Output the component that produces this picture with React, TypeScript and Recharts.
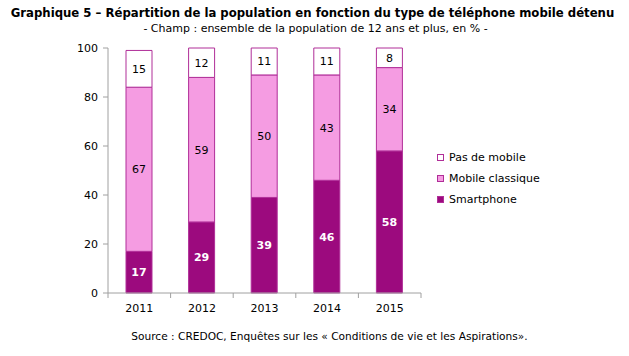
import React from 'react';
import { BarChart, Bar, XAxis, YAxis, LabelList } from 'recharts';

const years = ['2011', '2012', '2013', '2014', '2015'];
const smartphone = [17, 29, 39, 46, 58];
const mobileClassique = [67, 59, 50, 43, 34];
const pasDeMobile = [15, 12, 11, 11, 8];
const yTicks = [0, 20, 40, 60, 80, 100];

const data = years.map((y, i) => ({
  year: y,
  smartphone: smartphone[i],
  classique: mobileClassique[i],
  pas: pasDeMobile[i],
}));

const FONT = '"DejaVu Sans", Verdana, sans-serif';
const BORDER = '#B02E98';
const AXIS = '#A0A0A0';
const C_SMART = '#9C0A7E';
const C_CLASSIC = '#F59CE2';
const LABEL_GAP = 11;

const legendItems = [
  { name: 'Pas de mobile', color: '#fff' },
  { name: 'Mobile classique', color: C_CLASSIC },
  { name: 'Smartphone', color: C_SMART },
];

function XTick(props: any) {
  const { x, y, payload, index } = props;
  const off = payload && typeof payload.offset === 'number' && payload.offset > 0 ? payload.offset : 31;
  const axisY = y - LABEL_GAP;
  const isLast = index === years.length - 1;
  return (
    <g>
      <line x1={x - off} x2={x - off} y1={axisY} y2={axisY + 5} stroke={AXIS} />
      {isLast && <line x1={x + off} x2={x + off} y1={axisY} y2={axisY + 5} stroke={AXIS} />}
      <text x={x} y={y} dy="0.71em" textAnchor="middle" fill="#000" fontSize={11} fontFamily={FONT}>{payload.value}</text>
    </g>
  );
}

export default function App() {
  return (
    <div style={{ position: 'absolute', left: 0, top: 0, width: 629, height: 356, background: '#fff', fontFamily: FONT }}>
      <div style={{ position: 'absolute', left: 0, top: 0 }}>
        <BarChart width={629} height={356} data={data} margin={{ top: 48, right: 208, left: 0, bottom: 33 }} barSize={26}>
          <XAxis dataKey="year" axisLine={{ stroke: AXIS }} tickLine={false} tickSize={0} tickMargin={LABEL_GAP} tick={<XTick />} height={30} interval={0} />
          <YAxis domain={[0, 100]} ticks={yTicks} width={108} axisLine={{ stroke: AXIS }} tickLine={{ stroke: AXIS }} tickSize={5} tick={{ fill: '#000', fontSize: 11, fontFamily: FONT }} tickMargin={5} />
          <Bar dataKey="smartphone" name="Smartphone" stackId="a" fill={C_SMART} stroke={BORDER} strokeWidth={1} isAnimationActive={false}>
            <LabelList dataKey="smartphone" position="center" fill="#fff" fontWeight="bold" fontSize={11} fontFamily={FONT} />
          </Bar>
          <Bar dataKey="classique" name="Mobile classique" stackId="a" fill={C_CLASSIC} stroke={BORDER} strokeWidth={1} isAnimationActive={false}>
            <LabelList dataKey="classique" position="center" fill="#000" fontSize={11} fontFamily={FONT} />
          </Bar>
          <Bar dataKey="pas" name="Pas de mobile" stackId="a" fill="#fff" stroke={BORDER} strokeWidth={1} isAnimationActive={false}>
            <LabelList dataKey="pas" position="center" fill="#000" fontSize={11} fontFamily={FONT} />
          </Bar>
        </BarChart>
      </div>
      <div style={{ position: 'absolute', left: 0, top: 6, width: 625, textAlign: 'center', fontWeight: 'bold', fontSize: 11.7, color: '#000', whiteSpace: 'nowrap' }}>
        Graphique 5 – Répartition de la population en fonction du type de téléphone mobile détenu
      </div>
      <div style={{ position: 'absolute', left: 1, top: 22, width: 629, textAlign: 'center', fontSize: 11, color: '#000', whiteSpace: 'nowrap' }}>
        - Champ : ensemble de la population de 12 ans et plus, en % -
      </div>
      <div style={{ position: 'absolute', left: 15, top: 330, width: 629, textAlign: 'center', fontSize: 10.6, color: '#000', whiteSpace: 'nowrap' }}>
        Source : CREDOC, Enquêtes sur les « Conditions de vie et les Aspirations».
      </div>
      <div style={{ position: 'absolute', left: 437, top: 147 }}>
        {legendItems.map((it) => (
          <div key={it.name} style={{ display: 'flex', alignItems: 'center', height: 21, fontSize: 11, color: '#000' }}>
            <span style={{ display: 'inline-block', width: 5, height: 5, background: it.color, border: `1px solid ${BORDER}`, marginRight: 5 }} />
            <span>{it.name}</span>
          </div>
        ))}
      </div>
    </div>
  );
}
